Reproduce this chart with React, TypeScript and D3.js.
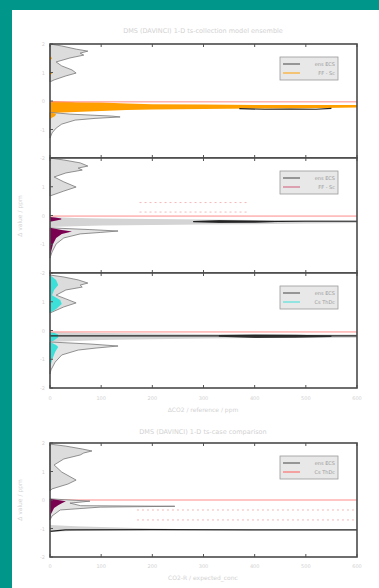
import React from 'react';
import * as d3 from 'd3';

// shared axes
const xTicks = [0, 100, 200, 300, 400, 500, 600];
const yTicks = [0, 1, 2, 3, 4];
const yTickLabels = ['-2', '-1', '0', '1', '2'];

// marginal histograms: [value, width]
const p1TopHist = [[4.0, 0], [3.93, 23], [3.82, 51], [3.75, 74], [3.68, 59], [3.61, 66], [3.51, 39], [3.37, 12], [3.23, 23], [3.09, 43], [2.98, 51], [2.88, 31], [2.74, 8], [2.67, 0]];
const p1TopColor = [[3.6, 0], [3.5, 4], [3.4, 0], [3.05, 0], [2.98, 5], [2.9, 0]];
const p1BotHist = [[1.6, 0], [1.54, 39], [1.47, 121], [1.44, 137], [1.39, 88], [1.33, 49], [1.19, 23], [1.05, 12], [0.88, 4], [0.7, 0]];
const p1BotColor = [[1.6, 0], [1.55, 12], [1.47, 10], [1.4, 3], [1.35, 0]];
const p1Band = [[0, 1.58, 2.0], [50, 1.61, 1.96], [100, 1.65, 1.95], [150, 1.68, 1.91], [200, 1.7, 1.89], [300, 1.72, 1.88], [400, 1.74, 1.86], [500, 1.75, 1.86], [600, 1.77, 1.86]];
const p1Line = [[370, 1.73], [420, 1.71], [470, 1.72], [520, 1.71], [550, 1.74]];

const p2TopHist = [[4.0, 0], [3.93, 27], [3.83, 59], [3.72, 74], [3.65, 55], [3.58, 63], [3.48, 31], [3.34, 8], [3.17, 27], [2.99, 51], [2.85, 27], [2.68, 0]];
const p2BotHist = [[1.57, 0], [1.51, 78], [1.46, 133], [1.41, 98], [1.36, 59], [1.22, 27], [1.01, 12], [0.73, 4], [0.52, 0]];
const p2BotColor = [[1.57, 0], [1.5, 23], [1.44, 43], [1.36, 23], [1.22, 12], [1.01, 6], [0.73, 2], [0.59, 0]];
const p2Band = [[0, 1.6, 1.95], [50, 1.63, 1.91], [100, 1.65, 1.9], [200, 1.67, 1.88], [300, 1.69, 1.86], [400, 1.7, 1.84], [500, 1.72, 1.84], [600, 1.74, 1.83]];
const p2ColorBand = [[0, 1.78, 1.95], [10, 1.82, 1.93], [22, 1.86, 1.9]];
const p2DarkBand = [[280, 1.77, 1.81], [330, 1.74, 1.84], [400, 1.75, 1.83], [440, 1.77, 1.81]];
const p2Line = [[280, 1.79], [400, 1.79], [500, 1.8], [600, 1.8]];
const p2Dashed = [[2.45, 175, 390], [2.12, 175, 390]];

const p3TopHist = [[3.93, 0], [3.86, 27], [3.76, 55], [3.65, 74], [3.58, 59], [3.51, 63], [3.41, 31], [3.23, 12], [3.1, 31], [2.96, 51], [2.82, 27], [2.61, 0]];
const p3TopColor = [[3.93, 0], [3.76, 12], [3.58, 16], [3.41, 8], [3.23, 4], [3.06, 20], [2.92, 23], [2.75, 12], [2.61, 0]];
const p3BotHist = [[1.6, 0], [1.53, 78], [1.46, 133], [1.39, 90], [1.32, 55], [1.15, 23], [0.9, 10], [0.63, 2], [0.49, 0]];
const p3BotColor = [[1.6, 0], [1.5, 12], [1.43, 16], [1.25, 10], [0.97, 4], [0.7, 0]];
const p3Band = [[0, 1.6, 1.95], [100, 1.67, 1.91], [200, 1.7, 1.9], [300, 1.72, 1.88], [400, 1.74, 1.86], [500, 1.74, 1.86], [600, 1.75, 1.86]];
const p3ColorBand = [[0, 1.6, 1.95], [8, 1.66, 1.92], [16, 1.76, 1.86]];
const p3DarkBand = [[330, 1.78, 1.84], [400, 1.74, 1.86], [480, 1.75, 1.85], [550, 1.77, 1.83]];
const p3Line = [[0, 1.81], [200, 1.81], [400, 1.81], [600, 1.81]];

const p4TopHist = [[3.96, 0], [3.89, 31], [3.79, 63], [3.72, 82], [3.65, 66], [3.58, 59], [3.44, 27], [3.23, 8], [2.98, 23], [2.7, 51], [2.56, 35], [2.39, 4], [2.32, 0]];
const p4BotHist = [[2.04, 0], [1.96, 78], [1.89, 39], [1.8, 60], [1.78, 244], [1.75, 98], [1.65, 20], [1.44, 4], [1.3, 0]];
const p4BotColor = [[2.04, 0], [1.96, 31], [1.89, 23], [1.82, 16], [1.72, 8], [1.51, 2], [1.3, 0]];
const p4Band = [[0, 0.88, 1.12], [50, 0.92, 1.08], [100, 0.93, 1.05], [200, 0.94, 1.0], [250, 0.94, 0.98], [300, 0.94, 0.96], [600, 0.94, 0.96]];
const p4Line = [[0, 0.9], [30, 0.95], [200, 0.96], [400, 0.95], [600, 0.95]];
const p4Dashed = [[1.65, 170, 600], [1.3, 170, 600]];

const refValues = [1.97, 1.98, 1.95, 2.0];
const legendNames = [['ens ECS', 'FF - Sc'], ['ens ECS', 'FF - Sc'], ['ens ECS', 'Cs ThDc'], ['ens ECS', 'Cs ThDc']];

const ORANGE = '#ffa000';
const PURPLE = '#7a0050';
const CYAN = '#3de0d8';
const RED = '#ff8a8a';
const TXT = '#d2d2d2';
const FONT = 'DejaVu Sans, sans-serif';

const panels = [
  { top: 44, bottom: 158, topLabel: true, topHist: p1TopHist, topColor: p1TopColor, botHist: p1BotHist, botColor: p1BotColor, band: p1Band, bandFill: ORANGE, colorBand: null, darkBand: null, line: p1Line, dashed: [], color: ORANGE, legendColor: ORANGE },
  { top: 158, bottom: 273, topLabel: false, topHist: p2TopHist, topColor: [], botHist: p2BotHist, botColor: p2BotColor, band: p2Band, bandFill: '#d4d4d4', colorBand: p2ColorBand, darkBand: p2DarkBand, line: p2Line, dashed: p2Dashed, color: PURPLE, legendColor: '#d05a7a' },
  { top: 273, bottom: 388, topLabel: false, topHist: p3TopHist, topColor: p3TopColor, botHist: p3BotHist, botColor: p3BotColor, band: p3Band, bandFill: '#d4d4d4', colorBand: p3ColorBand, darkBand: p3DarkBand, line: p3Line, dashed: [], color: CYAN, legendColor: CYAN },
  { top: 443, bottom: 557, topLabel: true, topHist: p4TopHist, topColor: [], botHist: p4BotHist, botColor: p4BotColor, band: p4Band, bandFill: '#d4d4d4', colorBand: null, darkBand: null, line: p4Line, dashed: p4Dashed, color: PURPLE, legendColor: '#ff5a5a' },
];

const x = d3.scaleLinear().domain([0, 600]).range([50, 357]);

function Panel({ p, i }: any) {
  const y = d3.scaleLinear().domain([0, 4]).range([p.bottom, p.top]);
  const hist = d3.area<number[]>().y(d => y(d[0])).x0(x(0)).x1(d => x(d[1]));
  const band = d3.area<number[]>().x(d => x(d[0])).y0(d => y(d[1])).y1(d => y(d[2]));
  const line = d3.line<number[]>().x(d => x(d[0])).y(d => y(d[1]));
  const ref = y(refValues[i]);
  const lx = 280, ly = p.top + 13;
  const labelTicks = p.topLabel ? yTicks : yTicks.slice(0, 4);
  return (
    <g>
      <rect x={50} y={p.top} width={307} height={p.bottom - p.top} fill="#fff" />
      {p.dashed.map((d: number[], k: number) => (
        <line key={k} x1={x(d[1])} x2={x(d[2])} y1={y(d[0])} y2={y(d[0])} stroke="#f3b8b8" strokeWidth={1} strokeDasharray="2,3" />
      ))}
      <path d={hist(p.topHist) || ''} fill="#dcdcdc" stroke="#777" strokeWidth={0.8} />
      {p.topColor.length > 0 && <path d={hist(p.topColor) || ''} fill={p.color} />}
      <path d={band(p.band) || ''} fill={p.bandFill} />
      {p.colorBand && <path d={band(p.colorBand) || ''} fill={p.color} />}
      {p.darkBand && <path d={band(p.darkBand) || ''} fill="#3a3a3a" />}
      <path d={line(p.line) || ''} fill="none" stroke="#222" strokeWidth={1.2} />
      <line x1={50} x2={357} y1={ref} y2={ref} stroke={RED} strokeWidth={1} />
      <path d={hist(p.botHist) || ''} fill="#e4e4e4" stroke="#777" strokeWidth={0.8} />
      <path d={hist(p.botColor) || ''} fill={p.color} />
      {xTicks.map(t => (
        <g key={t}>
          <line x1={x(t)} x2={x(t)} y1={p.top} y2={p.top + 3} stroke="#555" />
          <line x1={x(t)} x2={x(t)} y1={p.bottom} y2={p.bottom - 3} stroke="#555" />
        </g>
      ))}
      {yTicks.map(t => (
        <line key={t} x1={50} x2={53} y1={y(t)} y2={y(t)} stroke="#555" />
      ))}
      {labelTicks.map(t => (
        <text key={t} x={45} y={y(t) + 2} fontSize={5} fill={TXT} textAnchor="end" fontFamily={FONT}>{yTickLabels[t]}</text>
      ))}
      <rect x={50} y={p.top} width={307} height={p.bottom - p.top} fill="none" stroke="#4a4a4a" strokeWidth={1.6} />
      <rect x={lx} y={ly} width={58} height={23} fill="#e8e8e8" stroke="#9a9a9a" strokeWidth={0.8} />
      {legendNames[i].map((n, k) => (
        <g key={n + k}>
          <line x1={lx + 3} x2={lx + 20} y1={ly + 7 + k * 9} y2={ly + 7 + k * 9} stroke={k === 0 ? '#444' : p.legendColor} strokeWidth={1} />
          <text x={lx + 55} y={ly + 9 + k * 9} fontSize={5} fill="#9a9a9a" textAnchor="end" fontFamily={FONT}>{n}</text>
        </g>
      ))}
    </g>
  );
}

function XLabels({ yPos, label }: any) {
  return (
    <g>
      {xTicks.map(t => (
        <text key={t} x={x(t)} y={yPos} fontSize={5} fill={TXT} textAnchor="middle" fontFamily={FONT}>{t}</text>
      ))}
      <text x={203} y={yPos + 12} fontSize={6} fill={TXT} textAnchor="middle" fontFamily={FONT}>{label}</text>
    </g>
  );
}

export default function App() {
  return (
    <div style={{ position: 'absolute', left: 0, top: 0 }}>
      <svg width={379} height={588} style={{ display: 'block' }}>
        <rect width={379} height={588} fill="#00968a" />
        <rect x={12} y={10} width={367} height={578} fill="#fff" />
        <text x={203} y={33} fontSize={6.5} fill={TXT} textAnchor="middle" fontFamily={FONT}>DMS (DAVINCI) 1-D ts-collection model ensemble</text>
        <text x={203} y={434} fontSize={6.5} fill={TXT} textAnchor="middle" fontFamily={FONT}>DMS (DAVINCI) 1-D ts-case comparison</text>
        {panels.map((p, i) => <Panel key={i} p={p} i={i} />)}
        <XLabels yPos={400} label="ΔCO2 / reference / ppm" />
        <XLabels yPos={568} label="CO2-R / expected_conc" />
        <text transform="translate(22,216) rotate(-90)" fontSize={6} fill={TXT} textAnchor="middle" fontFamily={FONT}>Δ value / ppm</text>
        <text transform="translate(22,500) rotate(-90)" fontSize={6} fill={TXT} textAnchor="middle" fontFamily={FONT}>Δ value / ppm</text>
      </svg>
    </div>
  );
}
